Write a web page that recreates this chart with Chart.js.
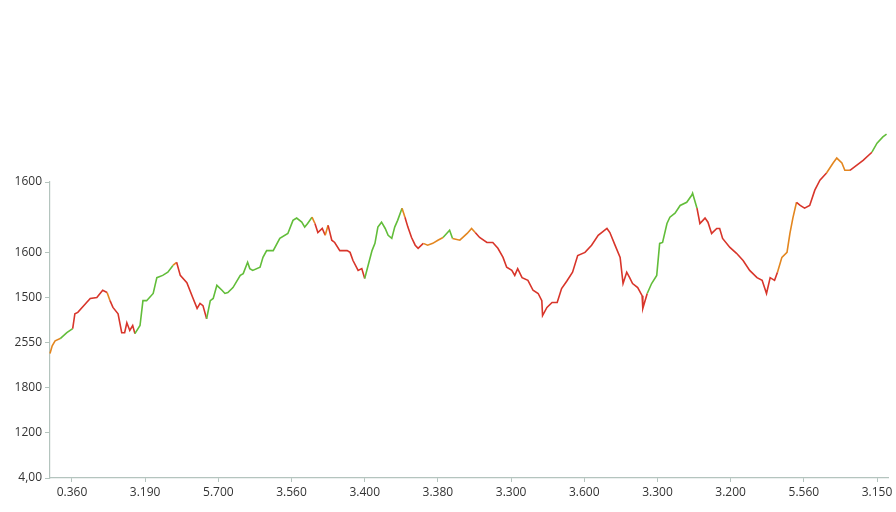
<!DOCTYPE html>
<html>
<head>
<meta charset="utf-8">
<script src="https://cdn.jsdelivr.net/npm/chart.js@4/dist/chart.umd.min.js"></script>
<style>
    html, body { margin: 0; padding: 0; background: #ffffff; }
    #wrap { width: 896px; height: 512px; position: relative; }
</style>
</head>
<body>
<div id="wrap"><canvas id="progression"></canvas></div>
<script>
// x positions (period index) and values
const periods = [
    -3.0, -2.7, -2.3, -1.6, -0.7, 0.1, 0.4, 0.8, 2.0, 2.5, 3.4, 4.2, 4.8, 5.2, 5.6, 6.3, 6.8, 7.2, 7.5, 7.9,
    8.3, 8.6, 9.3, 9.7, 10.2, 11.1, 11.6, 12.4, 13.1, 13.8, 14.3, 14.8, 15.7, 16.5, 17.1, 17.5, 17.9, 18.4, 18.9, 19.3,
    19.8, 20.5, 20.9, 21.3, 22.0, 23.0, 23.4, 24.0, 24.3, 24.7, 25.7, 26.1, 26.6, 27.5, 28.4, 29.5, 30.2, 30.7, 31.4, 31.8,
    32.2, 32.8, 33.2, 33.6, 34.2, 34.6, 35.0, 35.5, 35.9, 36.6, 37.6, 38.0, 38.4, 39.1, 39.6, 40.0, 40.4, 41.0, 41.4, 41.8,
    42.3, 42.8, 43.2, 43.7, 44.1, 44.5, 45.1, 45.5, 45.9, 46.4, 46.9, 47.3, 48.0, 48.6, 49.3, 50.0, 50.7, 51.6, 52.0, 53.0,
    54.0, 54.6, 55.1, 55.7, 56.7, 57.5, 58.2, 58.9, 59.4, 60.1, 60.5, 60.9, 61.5, 62.3, 63.0, 63.7, 64.2, 64.3, 64.9, 65.6,
    66.3, 66.9, 67.6, 68.4, 69.1, 70.1, 71.0, 71.9, 73.1, 73.5, 74.2, 74.9, 75.3, 75.8, 76.2, 76.6, 77.3, 77.9, 78.0, 78.6,
    79.2, 79.9, 80.3, 80.7, 81.3, 81.7, 82.4, 83.1, 84.0, 84.7, 84.8, 85.4, 85.8, 86.5, 86.9, 87.4, 88.1, 88.5, 88.9, 89.9,
    90.8, 91.7, 92.6, 93.6, 94.3, 94.9, 95.4, 96.0, 96.4, 97.0, 97.7, 98.1, 98.5, 99.0, 99.5, 100.1, 100.8, 101.5, 102.2, 103.1,
    104.0, 104.5, 105.2, 105.6, 106.3, 107.2, 108.1, 109.3, 110.0, 110.8, 111.3
];
const prices = [
    276, 293, 304, 309, 322, 331, 364, 367, 389, 398, 400, 416, 411, 393, 378, 364, 322, 322, 344, 327,
    338, 320, 338, 393, 393, 409, 444, 449, 456, 471, 478, 449, 433, 400, 376, 387, 382, 353, 393, 398,
    427, 416, 409, 411, 422, 449, 453, 478, 464, 460, 467, 489, 504, 504, 531, 542, 571, 576, 567, 556,
    564, 578, 564, 544, 553, 538, 560, 527, 522, 504, 504, 500, 482, 460, 464, 442, 467, 504, 520, 556,
    567, 553, 538, 531, 556, 571, 598, 578, 556, 533, 516, 509, 520, 516, 520, 527, 533, 549, 531, 527,
    542, 553, 544, 533, 522, 522, 509, 489, 467, 460, 449, 464, 444, 438, 416, 409, 393, 360, 378, 389,
    389, 420, 436, 456, 493, 500, 516, 538, 553, 544, 516, 489, 431, 456, 444, 431, 422, 404, 376, 409,
    431, 449, 520, 522, 564, 578, 587, 604, 611, 627, 631, 598, 564, 576, 567, 542, 553, 553, 531, 511,
    498, 482, 460, 444, 438, 409, 444, 438, 456, 489, 500, 542, 576, 611, 604, 598, 604, 638, 660, 676,
    698, 709, 698, 682, 682, 693, 704, 722, 742, 756, 762
];
// trend of each stretch as drawn: g = up run, r = down run, o = turning point
const trends = (
    'ooogg' + 'rrrrrrr' + 'o' + 'rrrrrrrr' + 'gggggggg' + 'o' + 'rrrrrrr' +
    'gggggggggggggggggggggggg' + 'o' + 'rrr' + 'o' + 'rrrrrrrrr' + 'ggggggggggg' + 'o' +
    'rrrrroooo' + 'gg' + 'oooo' + 'rrrrrrrrrrrrrrrrrrrrrrrrrrrrrrrrrrrrr' + 'gggggggggggg' +
    'rrrrrrrrrrrrrrrrr' + 'ooooo' + 'rrrrrr' + 'ooooo' + 'rrr' + 'gggg'
).split('');

const xTickValues = [0, 10, 20, 30, 40, 50, 60, 70, 80, 90, 100, 110];
const xTickLabels = ['0.360', '3.190', '5.700', '3.560', '3.400', '3.380', '3.300', '3.600', '3.300', '3.200', '5.560', '3.150'];
const yTickValues = [0, 100, 200, 300, 400, 500, 656];
const yTickLabels = ['4,00', '1200', '1800', '2550', '1500', '1600', '1600'];

const trendColors = { g: '#62bd3a', r: '#d8352a', o: '#e3861f' };
const axisColor = '#b4c4be';

const canvas = document.getElementById('progression');
const points = periods.map((period, i) => ({ x: period, y: prices[i] }));

new Chart(canvas, {
    type: 'line',
    data: {
        datasets: [
            {
                data: points,
                borderWidth: 1.6,
                pointRadius: 0,
                tension: 0,
                clip: false,
                segment: {
                    borderColor: (ctx) => trendColors[trends[ctx.p0DataIndex]] || trendColors.r,
                },
            },
        ],
    },
    options: {
        responsive: true,
        maintainAspectRatio: false,
        animation: false,
        layout: { padding: { top: 182, right: 8, left: 0, bottom: 0 } },
        plugins: { legend: { display: false }, tooltip: { enabled: false } },
        scales: {
            x: {
                type: 'linear',
                min: -3.0,
                max: 111.5,
                afterBuildTicks: (axis) => {
                    axis.ticks = xTickValues.map((v) => ({ value: v }));
                },
                afterFit: (axis) => { axis.height = 34; },
                ticks: {
                    autoSkip: false,
                    maxRotation: 0,
                    padding: 3,
                    color: '#333333',
                    font: { family: 'Open Sans', size: 12 },
                    callback: (value) => xTickLabels[xTickValues.indexOf(value)],
                },
                grid: { drawOnChartArea: false, tickLength: 4, color: axisColor },
                border: { color: axisColor, width: 1.2 },
            },
            y: {
                type: 'linear',
                min: 0,
                max: 656,
                afterBuildTicks: (axis) => {
                    axis.ticks = yTickValues.map((v) => ({ value: v }));
                },
                afterFit: (axis) => { axis.width = 50; },
                ticks: {
                    autoSkip: false,
                    padding: 3,
                    color: '#333333',
                    font: { family: 'Open Sans', size: 12 },
                    callback: (value) => yTickLabels[yTickValues.indexOf(value)],
                },
                grid: { drawOnChartArea: false, tickLength: 5, color: axisColor },
                border: { color: axisColor, width: 1.2 },
            },
        },
    },
});
</script>
</body>
</html>
